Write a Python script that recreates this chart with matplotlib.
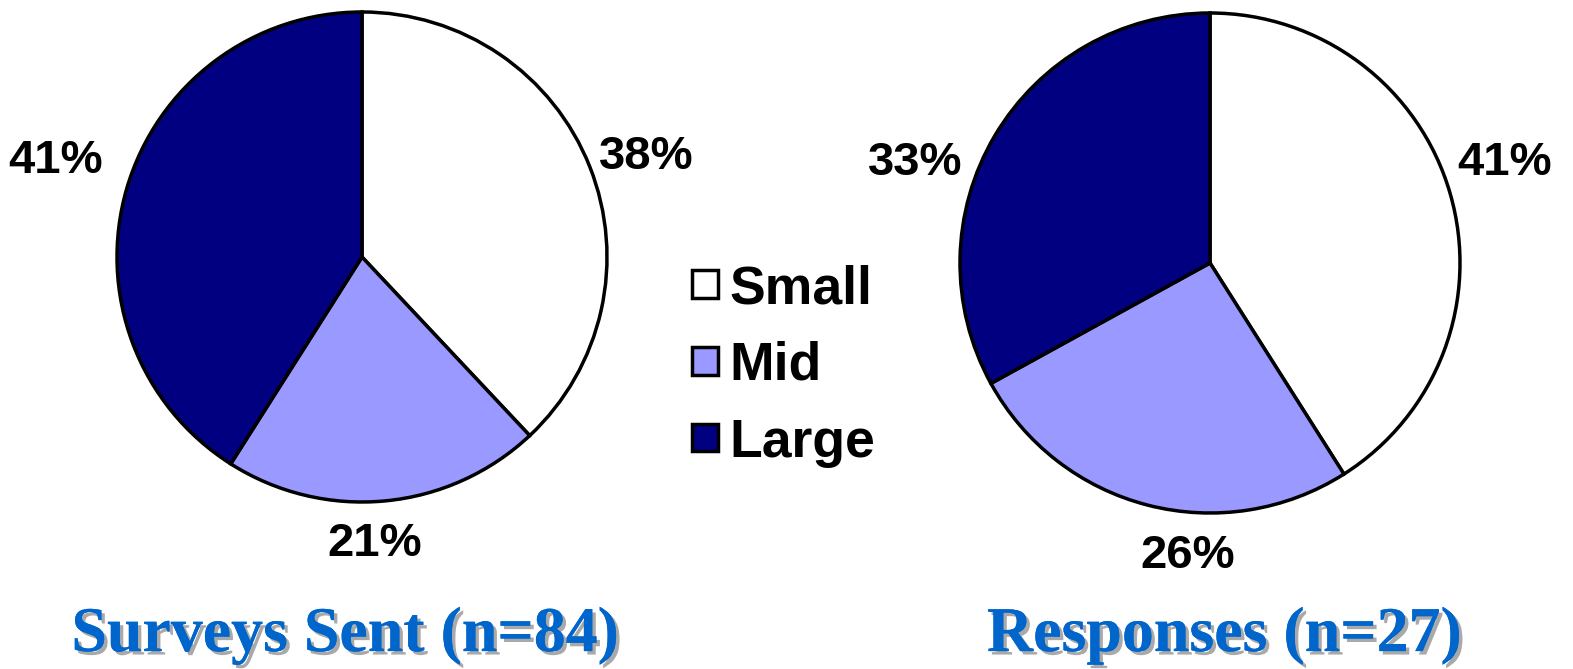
import matplotlib
matplotlib.use('Agg')
import matplotlib.pyplot as plt
import matplotlib.patheffects as pe
from matplotlib.patches import Patch

# 饼图数据
categories = ['Small', 'Mid', 'Large']
sent_pct = [38, 21, 41]
resp_pct = [41, 26, 33]
titles = ['Surveys Sent (n=84)', 'Responses (n=27)']
colors = ['#FFFFFF', '#9999FF', '#000080']

W, H = 1573, 669
fig = plt.figure(figsize=(W / 100, H / 100), dpi=100)
ax = fig.add_axes([0, 0, 1, 1])
ax.set_xlim(0, W)
ax.set_ylim(0, H)
ax.axis('off')

# 每个饼图: 圆心(像素, y 向上), 半径, 标签相对位置(以半径为单位)
pies = [
    dict(values=sent_pct, center=(362, H - 257), r=245,
         label_pos=[(1.16, 0.41), (0.05, -1.17), (-1.25, 0.39)],
         title_x=345),
    dict(values=resp_pct, center=(1210, H - 263), r=250,
         label_pos=[(1.18, 0.40), (-0.09, -1.17), (-1.18, 0.40)],
         title_x=1224),
]

for p, title in zip(pies, titles):
    wedges, _ = ax.pie(p['values'], colors=colors, startangle=90, counterclock=False,
                       center=p['center'], radius=p['r'],
                       wedgeprops=dict(edgecolor='black', linewidth=2.5))
    cx, cy = p['center']
    for v, (lx, ly) in zip(p['values'], p['label_pos']):
        ax.text(cx + lx * p['r'], cy + ly * p['r'], f'{v}%', ha='center', va='center',
                fontsize=34, fontweight='bold', family='Liberation Sans', color='black')
    ax.text(p['title_x'], H - 636, title, ha='center', va='center',
            fontsize=46, fontweight='bold', family='Liberation Serif', color='#0066CC',
            path_effects=[pe.withSimplePatchShadow(offset=(2.5, -2.5), shadow_rgbFace='#A0A0A0', alpha=0.9),
                          pe.Normal()])

ax.set_xlim(0, W)
ax.set_ylim(0, H)
ax.set_aspect('auto')

# 图例
handles = [Patch(facecolor=c, edgecolor='black', linewidth=2.5) for c in colors]
leg = fig.legend(handles, categories, loc='center left', bbox_to_anchor=(665 / W, 1 - 366 / H),
                 frameon=False, prop=dict(family='Liberation Sans', weight='bold', size=38.5),
                 handlelength=0.5, handleheight=0.42, handletextpad=0.2, labelspacing=0.5,
                 borderpad=0)

fig.savefig('out.png', dpi=100, facecolor='white')
